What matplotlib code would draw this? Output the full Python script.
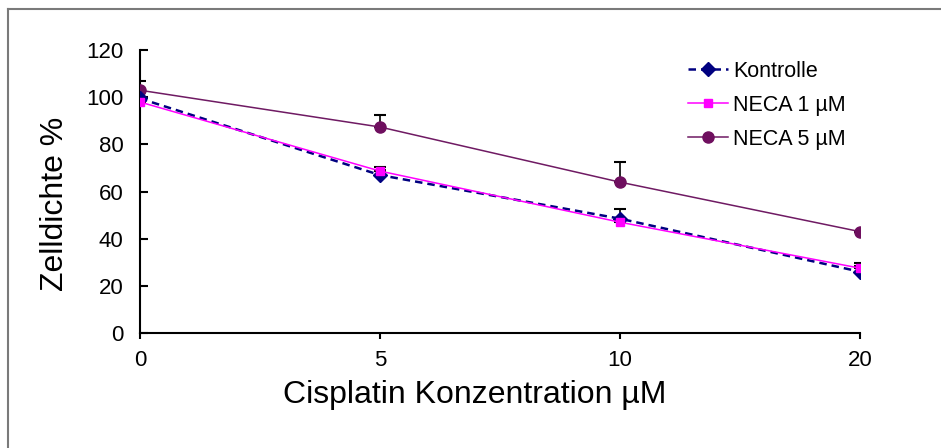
import matplotlib
matplotlib.use("Agg")
import matplotlib.pyplot as plt
from matplotlib.lines import Line2D

plt.rcParams['font.family'] = ['Liberation Sans', 'DejaVu Sans']

# data
concentrations = ['0', '5', '10', '20']
kontrolle = [99.5, 67, 48.5, 26]
kontrolle_err = [3, 2, 4, 2.5]
neca1 = [98, 68.7, 47, 27.5]
neca1_err = [2, 1.8, 2, 2]
neca5 = [103, 87.4, 64, 43]
neca5_err = [4, 5, 8.5, 0]

x = list(range(len(concentrations)))

fig = plt.figure(figsize=(9.41, 4.48), dpi=100)
ax = fig.add_axes([0.1488, 0.2567, 0.7652, 0.6313])

# grey frame lines (top and left) like the cropped screenshot
fig.lines.append(Line2D([0.0085, 1.0], [0.98, 0.98], transform=fig.transFigure,
                        color='#7a7a7a', linewidth=1.5))
fig.lines.append(Line2D([0.0085, 0.0085], [0.0, 0.98], transform=fig.transFigure,
                        color='#7a7a7a', linewidth=1.5))

err_kw = dict(ecolor='black', elinewidth=1.2, capsize=4, capthick=1.5)

ax.errorbar(x, kontrolle, yerr=[[0] * 4, kontrolle_err], fmt='none', **err_kw)
ax.errorbar(x, neca1, yerr=[[0] * 4, neca1_err], fmt='none', **err_kw)
ax.errorbar(x, neca5, yerr=[[0] * 4, neca5_err], fmt='none', **err_kw)

ax.plot(x, neca5, color='#6f1a63', linewidth=1.1, marker='o', markersize=8,
        markerfacecolor='#6f0f5f', markeredgecolor='#6f0f5f', label='NECA 5 µM', zorder=3)
ax.plot(x, kontrolle, color='#000080', linewidth=1.8, linestyle=(0, (3, 2)), marker='D',
        markersize=7, markerfacecolor='#000080', markeredgecolor='#000080',
        label='Kontrolle', zorder=4)
ax.plot(x, neca1, color='#ff00ff', linewidth=1.1, marker='s', markersize=6,
        markerfacecolor='#ff00ff', markeredgecolor='#ff00ff', label='NECA 1 µM', zorder=5)

ax.set_xlim(0, 3)
ax.set_ylim(0, 120)
ax.set_xticks(x)
ax.set_xticklabels(concentrations)
ax.set_yticks(range(0, 121, 20))

for side in ['top', 'right']:
    ax.spines[side].set_visible(False)
for side in ['left', 'bottom']:
    ax.spines[side].set_linewidth(1.5)

ax.tick_params(axis='y', direction='in', length=6, width=1.5, labelsize=16, pad=12)
ax.tick_params(axis='x', direction='out', length=4, width=1.5, labelsize=16, pad=8)

ax.set_xlabel('Cisplatin Konzentration µM', fontsize=23)
ax.set_ylabel('Zelldichte %', fontsize=23)
ax.xaxis.set_label_coords(0.465, -0.165, transform=ax.transAxes)
ax.xaxis.label.set_va('top')
ax.yaxis.set_label_coords(-0.118, 0.456, transform=ax.transAxes)
ax.yaxis.label.set_va('center')

handles, labels = ax.get_legend_handles_labels()
order = [1, 2, 0]
fig.legend([handles[i] for i in order], [labels[i] for i in order], loc='upper left',
           bbox_to_anchor=(688 / 941, 1 - 61 / 448), frameon=False, fontsize=15.5,
           handlelength=1.85, handletextpad=0.25, labelspacing=0.6,
           borderpad=0, borderaxespad=0)

fig.savefig('out.png', dpi=100)
